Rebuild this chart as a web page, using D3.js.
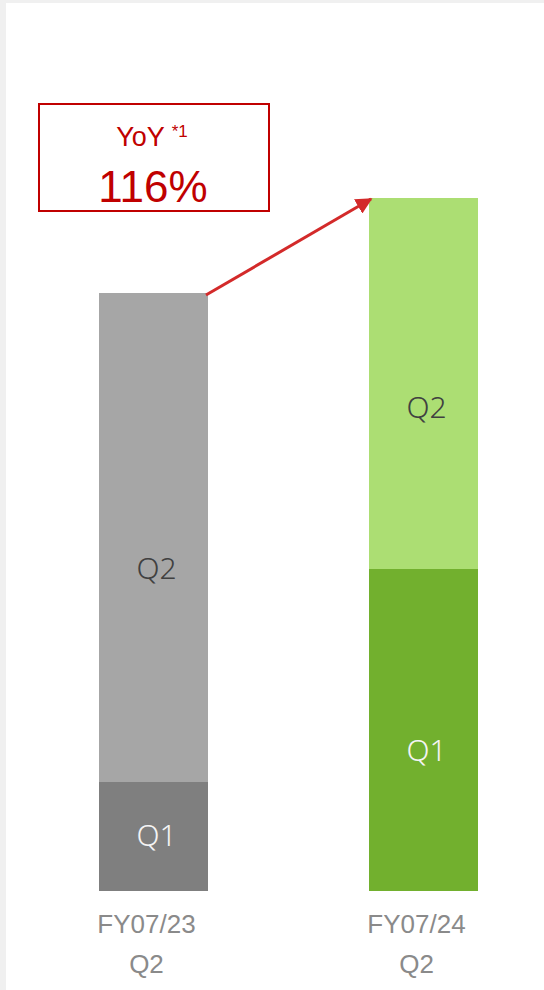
<!DOCTYPE html>
<html>
<head>
<meta charset="utf-8">
<script src="https://cdn.jsdelivr.net/npm/d3@7"></script>
<style>
  html, body { margin: 0; padding: 0; background: #f0f0f0; }
  svg { display: block; }
  .sans { font-family: "Liberation Sans", Arial, sans-serif; }
  .qlab { font-family: "Noto Sans", "Open Sans", sans-serif; font-weight: 300; }
</style>
</head>
<body>
<svg id="chart" width="544" height="990"></svg>
<script>
// Fiscal periods (first half: Q1 + Q2)
const periods = ["FY07/23", "FY07/24"];
const periodSub = ["Q2", "Q2"];
const quarters = ["Q1", "Q2"];
const q1Values = [109, 322];
const q2Values = [489, 371];
const yoyLabel = "116%";

const svg = d3.select("#chart");
const W = 544, H = 990;

// white panel
svg.append("rect").attr("x", 6).attr("y", 3).attr("width", W - 6).attr("height", H - 3).attr("fill", "#ffffff");

const rows = periods.map((p, i) => ({ period: p, sub: periodSub[i], Q1: q1Values[i], Q2: q2Values[i] }));
const stacked = d3.stack().keys(quarters)(rows);

const x = d3.scaleBand().domain(periods).range([18, 559]).paddingInner(0.5963).paddingOuter(0.3);
const yMax = d3.max(rows, d => d.Q1 + d.Q2);
const y = d3.scaleLinear().domain([0, yMax]).range([891, 198]);

const fills = {
  "FY07/23": { Q1: "#7f7f7f", Q2: "#a6a6a6" },
  "FY07/24": { Q1: "#72b02e", Q2: "#acde73" }
};
const textFill = { Q1: "#f4f4f4", Q2: "#404040" };

stacked.forEach(layer => {
  const key = layer.key;
  const g = svg.append("g");
  g.selectAll("rect").data(layer).enter().append("rect")
    .attr("x", d => x(d.data.period))
    .attr("y", d => y(d[1]))
    .attr("width", x.bandwidth())
    .attr("height", d => y(d[0]) - y(d[1]))
    .attr("fill", d => fills[d.data.period][key]);
  g.selectAll("text").data(layer).enter().append("text")
    .attr("class", "qlab")
    .attr("x", d => x(d.data.period) + x.bandwidth() / 2 + 3)
    .attr("y", d => {
      const top = y(d[1]), h = y(d[0]) - y(d[1]);
      return top + h * (h > 200 ? 0.563 : 0.49);
    })
    .attr("dy", "0.36em")
    .attr("text-anchor", "middle")
    .attr("font-size", 30)
    .attr("fill", textFill[key])
    .text(key);
});

// category axis labels
const axisG = svg.append("g").attr("class", "sans").attr("font-size", 26).attr("fill", "#8a8a8a").attr("text-anchor", "middle");
rows.forEach(r => {
  const cx = x(r.period) + x.bandwidth() / 2 - 7;
  axisG.append("text").attr("x", cx).attr("y", 933).text(r.period);
  axisG.append("text").attr("x", cx).attr("y", 973).text(r.sub);
});

// growth arrow between the two bar tops
const red = "#d32a2a";
const defs = svg.append("defs");
defs.append("marker").attr("id", "arrowHead").attr("viewBox", "0 0 10 10")
  .attr("refX", 9).attr("refY", 5).attr("markerWidth", 5.5).attr("markerHeight", 5.5)
  .attr("markerUnits", "strokeWidth").attr("orient", "auto")
  .append("path").attr("d", "M0,0 L10,5 L0,10 Z").attr("fill", red);
const r0 = rows[0], r1 = rows[1];
svg.append("line")
  .attr("x1", x(r0.period) + x.bandwidth() - 2).attr("y1", y(r0.Q1 + r0.Q2) + 2)
  .attr("x2", x(r1.period) + 2).attr("y2", y(r1.Q1 + r1.Q2) + 1)
  .attr("stroke", red).attr("stroke-width", 3)
  .attr("marker-end", "url(#arrowHead)");

// YoY callout box
const boxRed = "#c00000";
svg.append("rect").attr("x", 39).attr("y", 104).attr("width", 230).attr("height", 107)
  .attr("fill", "#ffffff").attr("stroke", boxRed).attr("stroke-width", 2);
const yoy = svg.append("text").attr("class", "sans").attr("x", 152).attr("y", 146).attr("text-anchor", "middle")
  .attr("fill", boxRed);
yoy.append("tspan").attr("font-size", 27).text("YoY ");
yoy.append("tspan").attr("font-size", 17).attr("dy", -9).text("*1");
svg.append("text").attr("class", "sans").attr("x", 153).attr("y", 202).attr("text-anchor", "middle")
  .attr("font-size", 44)
  .attr("fill", boxRed).text(yoyLabel);
</script>
</body>
</html>
